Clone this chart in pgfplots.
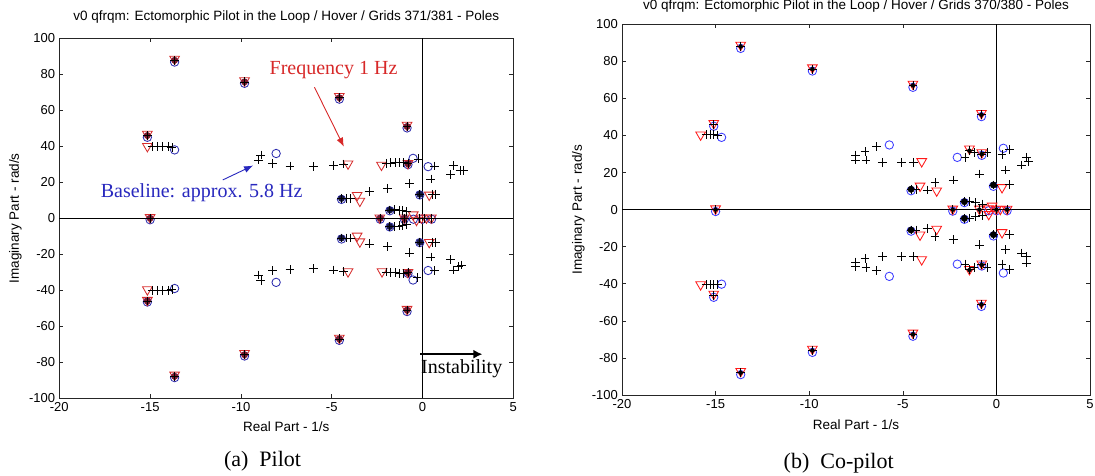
\documentclass[border=0pt]{standalone}
\usepackage{fontspec}
\setmainfont{Liberation Sans}
\newfontfamily\tms{Liberation Serif}
\usepackage{pgfplots}
\pgfplotsset{compat=1.18}
\usetikzlibrary{arrows.meta}
\definecolor{lred}{RGB}{215,45,45}
\definecolor{lblue}{RGB}{45,45,175}
\definecolor{lmaroon}{RGB}{120,25,45}
\definecolor{lnavy}{RGB}{20,20,70}
\definecolor{rred}{RGB}{255,25,25}
\definecolor{rblue}{RGB}{60,60,255}
\definecolor{annred}{RGB}{215,40,40}
\definecolor{annblue}{RGB}{40,40,190}
\pgfplotsset{
  pzbase/.style={
    scale only axis,
    xmin=-20, xmax=5, ymin=-100, ymax=100,
    xtick={-20,-15,-10,-5,0,5},
    ytick={-100,-80,-60,-40,-20,0,20,40,60,80,100},
    tick align=inside, major tick length=4pt,
    /pgf/number format/assume math mode=true,
    tick label style={font=\fontsize{13}{15}\selectfont, inner sep=1.5pt},
    xticklabel style={yshift=-2.5pt},
    yticklabel style={xshift=-2.5pt},
    label style={font=\fontsize{13.5}{15}\selectfont},
    title style={font=\fontsize{13.5}{15}\selectfont, at={(0.5,1)}, anchor=center, inner sep=1pt},
    axis line style={line width=0.6pt, black!85},
    tick style={line width=0.6pt, black!85},
    xlabel={Real Part - 1/s},
    ylabel={Imaginary Part - rad/s},
    clip=false,
  },
  pmk/.style={only marks, mark=+, mark size=4.4pt, black, mark options={line width=0.7pt}},
  omk/.style={only marks, mark=o, mark size=4.2pt, color=#1, mark options={line width=0.85pt}},
  tmk/.style={only marks, mark=triangle, mark size=5.6pt, color=#1, mark options={rotate=180, line width=0.85pt}},
  dmk/.style={only marks, mark=*, mark size=3.2pt, color=#1},
}
\begin{document}
\begin{tikzpicture}
\useasboundingbox (0,0) rectangle (1095pt,476pt);
% ---------------- Left panel (a) Pilot ----------------
\begin{axis}[pzbase,
  at={(59.3pt,77.7pt)}, anchor=south west,
  width=454pt, height=360pt,
  title={v0 qfrqm: Ectomorphic Pilot in the Loop / Hover / Grids 371/381 - Poles},
  title style={yshift=15.5pt},
  xlabel style={at={(axis description cs:0.5,0)}, anchor=center, yshift=-28.5pt},
  ylabel style={at={(axis description cs:-0.097,0.5)}, anchor=center},
]
\addplot[black, line width=0.6pt, forget plot] coordinates {(0,-100) (0,100)};
\addplot[black, line width=0.6pt, forget plot] coordinates {(-20,0) (5,0)};
% blue circles (baseline)
\addplot[omk=lblue] coordinates {
(-13.65,86.8) (-9.8,75) (-4.58,66.2) (-0.85,50.2) (-15.15,45) (-15.0,-0.8)
(-13.65,-88.5) (-9.8,-76.5) (-4.58,-67.8) (-0.85,-51.8) (-15.15,-46.5)
(-13.65,38) (-13.65,-39)
(-8.06,36) (-8.06,-35.6)
(-0.52,33.3) (-0.52,-34.3)
(-0.8,29.8) (-0.8,-30.6)
(0.31,28.7) (0.31,-29)
(-4.46,10.5) (-4.46,-11.5)
(-0.15,13) (-0.15,-13.5)
(-1.8,4.2) (-1.8,-4.8)
(-2.33,-0.5) (-1.0,-0.5) (0,-0.5) (0.5,-0.5) (-0.5,-0.5)
};
% red triangles (1 Hz)
\addplot[tmk=lred] coordinates {
(-13.65,88.5) (-9.8,76.5) (-4.58,67.8) (-0.85,51.8) (-15.15,46.8) (-15,0.5)
(-13.65,-87) (-9.8,-75) (-4.58,-66.5) (-0.85,-50.5) (-15.15,-45.5)
(-15.15,40) (-15.15,-39.6)
(-4.1,30.3) (-4.1,-29.6)
(-2.26,29.6) (-0.8,30.5) (-2.23,-29.6) (-0.8,-30)
(-3.6,12.8) (-3.45,9.6) (-3.6,-9.8) (-3.45,-13)
(0.37,13) (0.37,-13.3)
(-2.35,0.3) (-1.0,0.3) (-0.51,2) (-0.33,-1) (-0.06,0.3) (0.22,0.3) (0.49,0.3)
};
% overlapping clusters
\addplot[dmk=lmaroon] coordinates {
(-13.65,87.8) (-9.8,75.8) (-4.58,67) (-0.85,51) (-15.15,46) (-15.0,0)
(-13.65,-87.8) (-9.8,-75.8) (-4.58,-67) (-0.85,-51) (-15.15,-46)
(-0.8,30.3) (-0.8,-30.2) (-2.33,0) (-1.0,0)
};
\addplot[dmk=lnavy] coordinates {
(-4.46,11) (-4.46,-11) (-0.15,13.3) (-0.15,-13.3) (-1.8,4.6) (-1.8,-4.6)
};
% black plus (intermediate frequencies)
\addplot[pmk] coordinates {
(-13.65,87.8) (-9.8,75.8) (-4.58,67) (-0.85,51) (-15.15,46) (-15.0,0)
(-13.65,-87.8) (-9.8,-75.8) (-4.58,-67) (-0.85,-51) (-15.15,-46)
(-14.9,40) (-14.6,40) (-14.3,40) (-14.0,40) (-13.8,39.3)
(-14.9,-40) (-14.6,-40) (-14.3,-40) (-14.0,-40) (-13.8,-39.5)
(-8.9,35.2) (-9.05,32.4) (-8.26,30.5) (-7.3,29) (-6.0,28.7) (-4.9,29.3) (-4.35,30.2)
(-9.05,-31.5) (-8.9,-34.5) (-8.26,-29) (-7.3,-28.5) (-6.0,-28) (-4.92,-28.7) (-4.35,-29.6)
(-2.0,30.5) (-1.75,30.8) (-1.5,31) (-1.25,31) (-1.05,31) (-0.8,30.5) (-0.25,33)
(-2.0,-29.8) (-1.75,-30) (-1.5,-30.3) (-1.25,-30.5) (-1.05,-30.5) (-0.8,-30) (-0.3,-33)
(0.67,29) (0.67,-29)
(1.69,29.3) (2.24,26.5) (1.54,24.3) (2.06,26.5)
(1.54,-23) (1.69,-28.7) (2.15,-26) (2.0,-26.8)
(0.46,21.8) (-0.7,19.4) (-1.93,16.7) (-2.94,14.8)
(0.46,-21.5) (-0.7,-19.2) (-1.93,-15.7) (-2.94,-14.2)
(-4.46,11) (-4.2,11) (-3.95,11) (-4.46,-11) (-4.2,-11) (-3.95,-11)
(-0.15,13.3) (0.55,13.3) (0.73,13.3) (-0.15,-13.3) (0.55,-13.3) (0.73,-13.3)
(-1.8,4.6) (-1.55,4.8) (-1.3,4.5) (-1.1,4.2) (-0.9,3.8)
(-1.8,-4.6) (-1.55,-4.6) (-1.3,-4.2) (-1.1,-3.9) (-0.9,-3.5)
(-2.33,0) (-1.0,0) (-0.2,0) (0.5,0) (0.1,0)
};
% annotations
\node[font=\tms\fontsize{20}{22}\selectfont, text=annred] at (axis cs:-4.9,82.4) {Frequency 1 Hz};
\draw[annred, line width=0.9pt, -{Latex[length=9pt,width=7pt]}] (axis cs:-5.95,72.8) -- (axis cs:-4.33,39.8);
\node[font=\tms\fontsize{20}{22}\selectfont, text=annblue] at (axis cs:-12.16,14.4) {Baseline: approx. 5.8 Hz};
\draw[annblue, line width=0.9pt, -{Latex[length=9pt,width=7pt]}] (axis cs:-11.0,21.3) -- (axis cs:-9.33,29.3);
\draw[black, line width=2.6pt, -{Latex[length=9pt,width=9pt]}] (axis cs:-0.13,-75.5) -- (axis cs:3.3,-75.5);
\node[font=\tms\fontsize{20}{22}\selectfont] at (axis cs:2.16,-83.7) {Instability};
\end{axis}
% ---------------- Right panel (b) Co-pilot ----------------
\begin{axis}[pzbase,
  at={(622pt,81pt)}, anchor=south west,
  width=468pt, height=370.7pt,
  title={v0 qfrqm: Ectomorphic Pilot in the Loop / Hover / Grids 370/380 - Poles},
  title style={yshift=12.5pt},
  xlabel style={at={(axis description cs:0.5,0)}, anchor=center, yshift=-30pt},
  ylabel style={at={(axis description cs:-0.093,0.5)}, anchor=center},
]
\addplot[black, line width=0.6pt, forget plot] coordinates {(0,-100) (0,100)};
\addplot[black, line width=0.6pt, forget plot] coordinates {(-20,0) (5,0)};
% blue circles
\addplot[omk=rblue] coordinates {
(-13.66,87) (-9.83,74.8) (-4.46,66) (-0.8,50.2) (-15.1,45) (-15.0,-1)
(-13.66,-89) (-9.83,-77) (-4.46,-68.3) (-0.8,-52.2) (-15.1,-47.3)
(-14.68,39) (-14.68,-40.2)
(-5.72,34.9) (-5.72,-36)
(-4.56,10.2) (-4.56,-11.6)
(-2.09,28.2) (-2.09,-29.4)
(-0.78,29.3) (-0.78,-30.4)
(0.37,33.1) (0.37,-34.2)
(-0.16,12.6) (-0.16,-14.2)
(-1.71,3.8) (-1.71,-5.2)
(-2.33,-0.8) (-0.41,-0.6) (0,-0.6) (0.57,-0.6)
};
% red triangles
\addplot[tmk=rred] coordinates {
(-13.66,88.8) (-9.83,76.6) (-4.46,67.8) (-0.8,52) (-15.1,46.6) (-15.0,0.5)
(-13.66,-87.2) (-9.83,-75.2) (-4.46,-66.5) (-0.8,-50.4) (-15.1,-45.5)
(-15.8,40.4) (-15.8,-40.4)
(-3.99,26) (-3.99,-26.9)
(-4.08,12.8) (-3.19,10.2) (-4.08,-13.6) (-3.19,-10.5)
(-1.44,32.8) (-1.44,-32.2)
(-0.78,30.8) (-0.78,-29.2)
(0.3,12) (0.3,-12.3)
(-2.33,0.4) (-0.91,0.4) (-0.41,0.5) (-0.23,2) (0,0.3) (0.21,0.3) (0.57,0.3) (-0.41,-2.5)
};
% overlapping clusters
\addplot[dmk=black, mark size=2pt] coordinates {
(-13.66,88) (-9.83,75.8) (-4.46,67) (-0.8,51.2) (-15.0,0)
(-13.66,-88) (-9.83,-76) (-4.46,-67.3) (-0.8,-51.2)
(-1.44,31.8) (-0.78,30) (-1.44,-32.6) (-0.78,-29.8)
(-2.33,0) (-0.91,0) (0.57,0) (0,0)
};
\addplot[dmk=black] coordinates {
(-4.56,11) (-4.56,-11) (-0.16,13.3) (-0.16,-13.5) (-1.71,4.3) (-1.71,-4.7)
};
% black plus
\addplot[pmk] coordinates {
(-13.66,88) (-9.83,75.8) (-4.46,67) (-0.8,51.2) (-15.1,45.8) (-15.0,0)
(-13.66,-88) (-9.83,-76) (-4.46,-67.3) (-0.8,-51.2) (-15.1,-46.3)
(-15.5,40.5) (-15.3,40.5) (-15.1,40.5) (-14.9,40.3)
(-15.5,-40.5) (-15.3,-40.5) (-15.1,-40.5) (-14.9,-40.3)
(-7.52,29.5) (-7.52,26.8) (-7.02,31.3) (-6.97,26.8) (-6.4,34) (-6.1,25.5) (-5.06,25.5) (-4.44,25.5)
(-7.52,-28.3) (-7.52,-30.5) (-7.02,-26.5) (-6.97,-31) (-6.4,-32.8) (-6.1,-25.4) (-5.06,-25.4) (-4.44,-25.4)
(-4.56,11) (-4.3,11) (-3.7,10.6) (-3.28,14.5) (-2.3,16)
(-4.56,-11) (-4.3,-11) (-3.7,-10) (-3.28,-14.5) (-2.3,-16)
(-1.68,28.2) (-1.44,32) (-1.2,31) (-0.78,30) (-0.5,31)
(-1.68,-29.4) (-1.44,-32.4) (-1.2,-31) (-0.78,-29.6) (-0.5,-31)
(0.69,32.5) (0.3,29.6) (0.69,-32.4) (0.3,-29.4)
(0.47,21.4) (1.59,28.2) (1.71,25.9) (1.35,24.1)
(0.47,-21.6) (1.35,-23.4) (1.62,-25.2) (1.59,-28.8)
(-0.91,19.2) (-0.91,-19)
(-0.16,13.3) (0.69,13.6) (-0.16,-13.5) (0.69,-13.5)
(-1.71,4.3) (-1.45,4.5) (-1.1,3.8) (-0.75,3)
(-1.71,-4.7) (-1.45,-4.5) (-1.1,-3.8) (-0.75,-3)
(-2.33,0) (-0.91,0) (0,0) (0.57,0)
};
\end{axis}
% captions
\node[font=\tms\fontsize{22}{24}\selectfont] at (262.5pt,14.3pt) {(a)\hspace{0.5em}Pilot};
\node[font=\tms\fontsize{22}{24}\selectfont] at (838.7pt,12.7pt) {(b)\hspace{0.5em}Co-pilot};
\end{tikzpicture}
\end{document}
